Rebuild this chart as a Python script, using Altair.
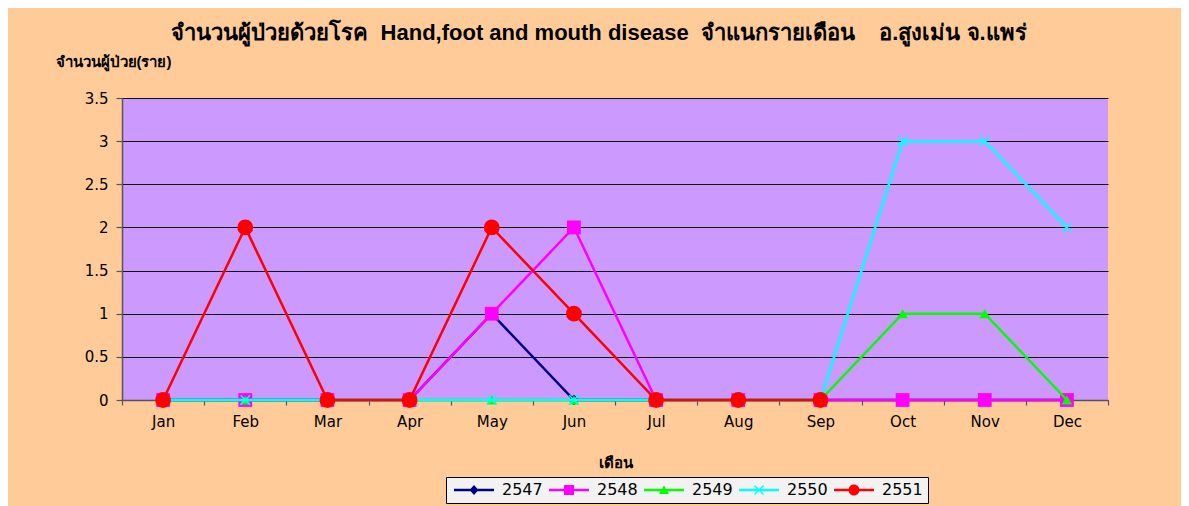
import altair as alt
import pandas as pd

months = ["Jan", "Feb", "Mar", "Apr", "May", "Jun", "Jul", "Aug", "Sep", "Oct", "Nov", "Dec"]
years = ["2547", "2548", "2549", "2550", "2551"]
s2547 = [0, 0, 0, 0, 1, 0, 0, 0, 0, 0, 0, 0]
s2548 = [0, 0, 0, 0, 1, 2, 0, 0, 0, 0, 0, 0]
s2549 = [0, 0, 0, 0, 0, 0, 0, 0, 0, 1, 1, 0]
s2550 = [0, 0, 0, 0, 0, 0, 0, 0, 0, 3, 3, 2]
s2551 = [0, 2, 0, 0, 2, 1, 0, 0, 0, None, None, None]
series = [s2547, s2548, s2549, s2550, s2551]
y_ticks = [0, 0.5, 1, 1.5, 2, 2.5, 3, 3.5]

colors = ["#000080", "#FF00FF", "#00FF00", "#00FFFF", "#FF0000"]

# marker shapes (unit square paths)
X_PATH = "M-1,-0.8L-0.8,-1L0,-0.2L0.8,-1L1,-0.8L0.2,0L1,0.8L0.8,1L0,0.2L-0.8,1L-1,0.8L-0.2,0Z"
shapes = ["diamond", "square", "triangle-up", X_PATH, "circle"]
sizes = [110, 190, 110, 110, 250]

LINE = "M-4,-0.25L4,-0.25L4,0.25L-4,0.25Z"
legend_markers = [
    "M0,-1L0.9,0L0,1L-0.9,0Z",
    "M-1,-1L1,-1L1,1L-1,1Z",
    "M0,-0.9L1,0.8L-1,0.8Z",
    X_PATH,
    "M-1.1,0A1.1,1.1 0 1,1 1.1,0A1.1,1.1 0 1,1 -1.1,0Z",
]
legend_shapes = [LINE + m for m in legend_markers]

rows = []
for yr, vals in zip(years, series):
    for m, v in zip(months, vals):
        rows.append({"year": yr, "month": m, "count": v})
df = pd.DataFrame(rows)

legend_df = pd.DataFrame({"series": years, "month": ["Jan"] * 5, "count": [None] * 5})

x_enc = alt.X("month:N", sort=months,
              scale=alt.Scale(domain=months, paddingInner=0, paddingOuter=0),
              axis=alt.Axis(title="เดือน", labelAngle=0, tickBand="extent",
                            titleY=62, titleBaseline="middle"))
y_enc = alt.Y("count:Q", scale=alt.Scale(domain=[0, 3.5], nice=False),
              axis=alt.Axis(title="จำนวนผู้ป่วย(ราย)", values=y_ticks, format="~g", titleAngle=0,
                            titleAlign="left", titleX=-67, titleY=-37,
                            titleBaseline="middle", grid=True))

layers = []
for yr, c, shp, sz in zip(years, colors, shapes, sizes):
    base = alt.Chart(df).transform_filter(alt.datum.year == yr)
    layers.append(base.mark_line(strokeWidth=2.5, color=c).encode(x=x_enc, y=y_enc))
    layers.append(base.mark_point(filled=True, opacity=1, strokeWidth=0).encode(
        x=x_enc, y=y_enc, color=alt.value(c), shape=alt.value(shp), size=alt.value(sz)))

legend_layer = alt.Chart(legend_df).mark_point(filled=True, opacity=1).encode(
    x=x_enc, y=y_enc,
    color=alt.Color("series:N", scale=alt.Scale(domain=years, range=colors),
                    legend=alt.Legend(title=None, orient="none", legendX=324, legendY=379,
                                      direction="horizontal", columns=5)),
    shape=alt.Shape("series:N", scale=alt.Scale(domain=years, range=legend_shapes)),
)
layers.append(legend_layer)

title_text = ("จำนวนผู้ป่วยด้วยโรค\u00a0\u00a0Hand,foot and mouth disease\u00a0\u00a0จำแนกรายเดือน"
              "\u00a0\u00a0\u00a0\u00a0อ.สูงเม่น จ.แพร่")

chart = alt.layer(*layers).properties(
    width=986, height=302,
    autosize=alt.AutoSizeParams(type="none"),
    padding={"left": 114, "top": 90, "right": 73, "bottom": 106},
    background="#FFCC99",
    title=alt.TitleParams(title_text, anchor="middle", dx=-16, dy=-5, fontSize=22,
                          font="Liberation Sans", fontWeight="bold", color="black"),
).configure_view(
    fill="#CC99FF", strokeWidth=0
).configure_axis(
    labelFont="DejaVu Sans", labelFontSize=15, labelColor="black",
    titleFont="Liberation Sans", titleFontSize=15, titleFontWeight="bold", titleColor="black",
    domainColor="#555555", domainWidth=1.5, tickColor="#555555", tickWidth=1.2,
    gridColor="#111111", gridWidth=1,
).configure_axisX(
    tickSize=5, labelPadding=9, grid=False,
).configure_axisY(
    tickSize=6, labelPadding=8,
).configure_legend(
    fillColor="#F2F2F2", strokeColor="#000000", padding=5,
    labelFont="DejaVu Sans", labelFontSize=16, labelColor="black",
    symbolSize=100, symbolOffset=15, labelOffset=20, columnPadding=3,
    symbolStrokeWidth=0,
)

chart.save("out.html", embed_options={"renderer": "svg", "actions": False})
